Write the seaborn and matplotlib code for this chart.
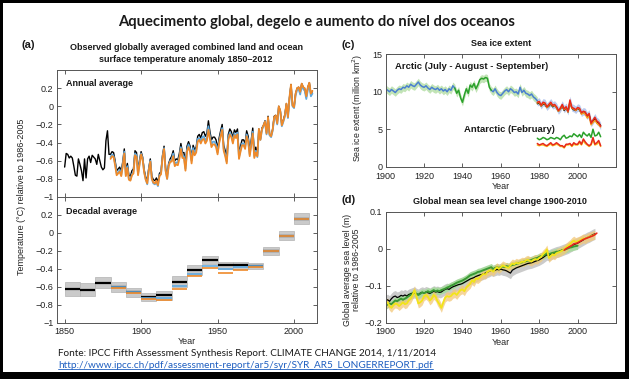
import numpy as np
import matplotlib
matplotlib.use('Agg')
import matplotlib.pyplot as plt
import seaborn as sns
from matplotlib.patches import Rectangle
from matplotlib.lines import Line2D

sns.set_theme(style='ticks')
PANEL_FONT = ['Liberation Sans Narrow', 'Liberation Sans', 'DejaVu Sans']
plt.rcParams['font.family'] = PANEL_FONT

# ---------------- (a) temperature anomaly ----------------
years_black = np.arange(1850, 2013)
temp_black = [
    -0.67, -0.52, -0.53, -0.57, -0.55, -0.57, -0.66, -0.76, -0.77, -0.58,
    -0.64, -0.71, -0.82, -0.58, -0.79, -0.58, -0.55, -0.62, -0.54, -0.56,
    -0.58, -0.64, -0.53, -0.60, -0.67, -0.70, -0.68, -0.38, -0.27, -0.53,
    -0.53, -0.50, -0.51, -0.60, -0.71, -0.69, -0.67, -0.72, -0.61, -0.47,
    -0.72, -0.63, -0.76, -0.77, -0.71, -0.69, -0.49, -0.51, -0.71, -0.59,
    -0.50, -0.56, -0.70, -0.78, -0.82, -0.68, -0.58, -0.77, -0.81, -0.82,
    -0.79, -0.84, -0.74, -0.72, -0.54, -0.44, -0.68, -0.77, -0.63, -0.58,
    -0.55, -0.49, -0.60, -0.58, -0.59, -0.52, -0.41, -0.51, -0.51, -0.65,
    -0.44, -0.39, -0.44, -0.57, -0.43, -0.48, -0.45, -0.33, -0.31, -0.35,
    -0.29, -0.28, -0.33, -0.30, -0.16, -0.28, -0.37, -0.34, -0.34, -0.37,
    -0.47, -0.35, -0.27, -0.20, -0.43, -0.49, -0.57, -0.31, -0.25, -0.28,
    -0.35, -0.26, -0.29, -0.25, -0.52, -0.44, -0.37, -0.37, -0.41, -0.27,
    -0.33, -0.49, -0.37, -0.24, -0.51, -0.45, -0.54, -0.25, -0.36, -0.24,
    -0.21, -0.16, -0.29, -0.11, -0.31, -0.33, -0.25, -0.11, -0.10, -0.18,
    0.00, -0.05, -0.20, -0.15, -0.09, 0.03, -0.12, 0.09, 0.24, 0.01,
    -0.01, 0.14, 0.20, 0.21, 0.15, 0.25, 0.21, 0.19, 0.10, 0.21,
    0.26, 0.13, 0.17]
years_other = np.arange(1880, 2013)
temp_orange = [
    -0.58, -0.55, -0.56, -0.65, -0.76, -0.74, -0.72, -0.77, -0.66, -0.52,
    -0.77, -0.68, -0.81, -0.82, -0.76, -0.74, -0.54, -0.56, -0.76, -0.64,
    -0.53, -0.59, -0.73, -0.81, -0.85, -0.71, -0.61, -0.80, -0.84, -0.85,
    -0.82, -0.87, -0.77, -0.75, -0.57, -0.47, -0.71, -0.80, -0.66, -0.61,
    -0.61, -0.55, -0.66, -0.64, -0.65, -0.58, -0.47, -0.57, -0.57, -0.71,
    -0.50, -0.45, -0.50, -0.63, -0.49, -0.54, -0.51, -0.39, -0.37, -0.41,
    -0.37, -0.36, -0.41, -0.38, -0.26, -0.36, -0.45, -0.42, -0.42, -0.45,
    -0.53, -0.41, -0.33, -0.26, -0.49, -0.55, -0.63, -0.37, -0.31, -0.34,
    -0.41, -0.32, -0.35, -0.31, -0.58, -0.50, -0.43, -0.43, -0.47, -0.33,
    -0.39, -0.55, -0.43, -0.30, -0.57, -0.51, -0.55, -0.25, -0.37, -0.25,
    -0.21, -0.17, -0.30, -0.12, -0.31, -0.33, -0.26, -0.12, -0.10, -0.19,
    0.00, -0.05, -0.21, -0.16, -0.10, 0.03, -0.12, 0.10, 0.24, 0.01,
    -0.01, 0.14, 0.20, 0.21, 0.16, 0.25, 0.21, 0.20, 0.11, 0.21,
    0.26, 0.14, 0.17]
temp_blue = [
    -0.56, -0.53, -0.55, -0.63, -0.74, -0.73, -0.70, -0.76, -0.64, -0.50,
    -0.76, -0.66, -0.80, -0.81, -0.75, -0.72, -0.52, -0.54, -0.75, -0.62,
    -0.52, -0.58, -0.72, -0.80, -0.86, -0.70, -0.60, -0.80, -0.85, -0.86,
    -0.84, -0.88, -0.76, -0.74, -0.56, -0.46, -0.70, -0.80, -0.65, -0.60,
    -0.59, -0.52, -0.64, -0.62, -0.62, -0.56, -0.45, -0.55, -0.55, -0.69,
    -0.48, -0.42, -0.47, -0.60, -0.46, -0.51, -0.48, -0.36, -0.35, -0.39,
    -0.34, -0.33, -0.38, -0.35, -0.22, -0.33, -0.42, -0.39, -0.39, -0.42,
    -0.51, -0.39, -0.31, -0.24, -0.47, -0.53, -0.61, -0.35, -0.29, -0.32,
    -0.39, -0.30, -0.33, -0.29, -0.56, -0.48, -0.41, -0.41, -0.45, -0.31,
    -0.37, -0.53, -0.41, -0.28, -0.55, -0.49, -0.56, -0.26, -0.37, -0.26,
    -0.22, -0.17, -0.31, -0.13, -0.32, -0.34, -0.27, -0.13, -0.11, -0.20,
    -0.01, -0.06, -0.22, -0.17, -0.11, 0.02, -0.13, 0.08, 0.22, 0.00,
    -0.02, 0.12, 0.18, 0.19, 0.13, 0.23, 0.19, 0.17, 0.08, 0.18,
    0.23, 0.11, 0.14]

decades = np.arange(1850, 2010, 10)
dec_black = [-0.62, -0.63, -0.55, -0.60, -0.66, -0.71, -0.69, -0.54,
             -0.41, -0.30, -0.36, -0.36, -0.37, -0.20, -0.03, 0.16]
dec_unc = [0.08, 0.07, 0.06, 0.055, 0.05, 0.045, 0.05, 0.06,
           0.055, 0.04, 0.035, 0.04, 0.035, 0.045, 0.05, 0.06]
decades_other = np.arange(1880, 2010, 10)
dec_orange = [-0.61, -0.67, -0.73, -0.74, -0.62, -0.48, -0.39, -0.44,
              -0.41, -0.38, -0.20, -0.03, 0.16]
dec_blue = [-0.60, -0.66, -0.72, -0.72, -0.59, -0.45, -0.37, -0.40,
            -0.38, -0.37, -0.20, -0.03, 0.16]

# ---------------- (c) sea ice extent ----------------
yrs_arc_early = np.arange(1900, 1937)
arc_early = [10.4, 10.2, 10.0, 10.3, 10.1, 9.9, 10.2, 10.4, 10.3, 10.6,
             10.5, 10.8, 10.6, 11.0, 10.8, 10.7, 11.0, 11.3, 10.9, 10.7,
             10.6, 10.8, 10.5, 10.3, 10.6, 10.4, 10.3, 10.5, 10.2, 10.4,
             10.1, 10.3, 10.0, 10.4, 10.2, 10.8, 10.5]
yrs_arc_mid = np.arange(1936, 1956)
arc_mid = [10.5, 9.8, 10.2, 9.2, 8.6, 9.6, 10.4, 9.8, 10.9, 10.6,
           11.1, 10.4, 10.9, 11.6, 11.8, 11.7, 11.9, 11.8, 10.6, 10.2]
yrs_arc_late = np.arange(1955, 1980)
arc_late = [10.2, 10.0, 10.4, 9.9, 9.6, 9.5, 9.8, 10.1, 10.3, 10.0,
            10.4, 10.2, 9.9, 10.0, 9.7, 10.6, 9.9, 10.2, 9.8, 9.7,
            9.5, 9.7, 9.3, 9.1, 8.8]
yrs_sat = np.arange(1979, 2013)
arc_red = [8.6, 8.7, 8.2, 8.6, 8.5, 8.0, 8.3, 8.6, 8.2, 8.3, 8.0, 7.5,
           7.8, 8.3, 7.7, 8.0, 7.4, 8.9, 7.9, 7.8, 7.6, 7.9, 7.8, 7.2,
           7.4, 7.3, 6.8, 7.1, 5.8, 6.2, 6.6, 6.1, 5.9, 5.4]
arc_black = [8.4, 8.5, 8.1, 8.4, 8.3, 7.9, 8.1, 8.4, 8.0, 8.2, 7.9, 7.4,
             7.7, 8.1, 7.5, 7.9, 7.3, 8.6, 7.8, 7.6, 7.5, 7.8, 7.6, 7.1,
             7.2, 7.1, 6.7, 6.9, 5.9, 6.1, 6.4, 6.0, 5.8, 5.5]
arc_orange = [8.5, 8.6, 8.1, 8.5, 8.4, 7.9, 8.2, 8.5, 8.1, 8.2, 7.9, 7.4,
              7.7, 8.2, 7.6, 7.9, 7.3, 8.7, 7.8, 7.7, 7.5, 7.8, 7.7, 7.0,
              7.2, 7.0, 6.5, 6.8, 5.6, 5.9, 6.2, 5.8, 5.6, 5.3]
ant_green = [3.8, 3.6, 3.7, 3.9, 3.8, 3.6, 3.7, 3.9, 3.8, 3.7, 3.9, 3.8,
             3.6, 4.0, 4.2, 3.8, 3.9, 4.1, 4.0, 4.4, 4.2, 4.0, 4.3, 3.9,
             4.6, 4.3, 4.1, 4.4, 3.9, 5.0, 4.1, 4.2, 4.6, 4.0]
ant_red = [3.1, 2.9, 3.0, 3.1, 2.9, 2.8, 3.0, 3.2, 2.9, 3.0, 3.2, 3.0,
           2.8, 2.8, 2.6, 3.0, 3.0, 3.1, 2.8, 3.2, 3.0, 3.0, 3.4, 3.0,
           3.7, 3.3, 3.0, 2.8, 3.0, 3.9, 3.0, 3.2, 3.5, 2.8]
ant_orange = [2.9, 2.8, 2.9, 2.9, 2.8, 2.7, 2.9, 3.0, 2.8, 2.9, 3.0, 2.9,
              2.7, 2.7, 2.5, 2.9, 2.9, 3.0, 2.7, 3.0, 2.9, 2.9, 3.2, 2.9,
              3.5, 3.1, 2.9, 2.7, 2.9, 3.6, 2.9, 3.0, 3.3, 2.7]
ice_unc = 0.5

# ---------------- (d) sea level ----------------
yrs_sl = np.arange(1900, 2010)
sl_yellow = [
    -0.150, -0.145, -0.155, -0.160, -0.152, -0.148, -0.150, -0.155, -0.150, -0.145,
    -0.150, -0.148, -0.140, -0.135, -0.125, -0.112, -0.130, -0.148, -0.145, -0.140,
    -0.128, -0.125, -0.130, -0.140, -0.135, -0.125, -0.130, -0.142, -0.150, -0.160,
    -0.145, -0.132, -0.128, -0.130, -0.128, -0.122, -0.120, -0.125, -0.118, -0.112,
    -0.110, -0.115, -0.105, -0.100, -0.095, -0.085, -0.090, -0.080, -0.082, -0.078,
    -0.072, -0.068, -0.070, -0.062, -0.060, -0.058, -0.062, -0.055, -0.050, -0.055,
    -0.050, -0.045, -0.048, -0.050, -0.052, -0.045, -0.040, -0.042, -0.038, -0.040,
    -0.038, -0.035, -0.036, -0.032, -0.030, -0.033, -0.035, -0.030, -0.028, -0.030,
    -0.025, -0.022, -0.015, -0.010, -0.002, -0.025, -0.020, -0.015, -0.018, -0.012,
    -0.010, -0.008, -0.005, -0.002, 0.003, 0.008, 0.012, 0.018, 0.022, 0.018,
    0.020, 0.022, 0.025, 0.028, 0.026, 0.030, 0.032, 0.034, 0.036, 0.038]
yrs_sl_green = np.arange(1900, 2001)
sl_green = [
    -0.155, -0.150, -0.148, -0.150, -0.145, -0.140, -0.142, -0.138, -0.135, -0.138,
    -0.135, -0.132, -0.128, -0.125, -0.122, -0.118, -0.122, -0.125, -0.122, -0.118,
    -0.120, -0.118, -0.115, -0.118, -0.115, -0.112, -0.115, -0.113, -0.115, -0.112,
    -0.110, -0.108, -0.105, -0.103, -0.100, -0.098, -0.095, -0.092, -0.090, -0.088,
    -0.086, -0.083, -0.080, -0.076, -0.072, -0.070, -0.068, -0.066, -0.063, -0.062,
    -0.060, -0.058, -0.056, -0.054, -0.052, -0.050, -0.055, -0.052, -0.050, -0.052,
    -0.050, -0.048, -0.050, -0.047, -0.049, -0.046, -0.044, -0.043, -0.041, -0.040,
    -0.038, -0.037, -0.035, -0.034, -0.032, -0.032, -0.030, -0.028, -0.026, -0.025,
    -0.022, -0.020, -0.019, -0.016, -0.012, -0.015, -0.013, -0.011, -0.010, -0.008,
    -0.008, -0.006, -0.004, -0.003, -0.001, 0.001, 0.003, 0.004, 0.006, 0.007,
    0.008]
sl_black = [
    -0.140, -0.138, -0.142, -0.135, -0.130, -0.128, -0.132, -0.130, -0.126, -0.128,
    -0.125, -0.128, -0.124, -0.122, -0.120, -0.118, -0.122, -0.124, -0.120, -0.118,
    -0.120, -0.117, -0.119, -0.121, -0.118, -0.115, -0.117, -0.116, -0.118, -0.117,
    -0.113, -0.110, -0.108, -0.110, -0.106, -0.103, -0.101, -0.099, -0.097, -0.096,
    -0.094, -0.091, -0.088, -0.085, -0.082, -0.080, -0.078, -0.075, -0.073, -0.071,
    -0.070, -0.068, -0.066, -0.063, -0.061, -0.058, -0.060, -0.058, -0.056, -0.057,
    -0.055, -0.057, -0.058, -0.060, -0.063, -0.066, -0.058, -0.055, -0.052, -0.050,
    -0.048, -0.046, -0.044, -0.042, -0.040, -0.039, -0.038, -0.036, -0.034, -0.032,
    -0.030, -0.027, -0.024, -0.020, -0.016, -0.018, -0.015, -0.013, -0.011, -0.009,
    -0.008, -0.006, -0.004, -0.002, 0.000, 0.002, 0.005, 0.008, 0.011, 0.013,
    0.015, 0.018, 0.021, 0.024, 0.027, 0.030, 0.032, 0.035, 0.038, 0.040]
yrs_sl_red = np.arange(1993, 2011)
sl_red = [-0.004, 0.000, 0.003, 0.006, 0.009, 0.013, 0.014, 0.016, 0.019,
          0.022, 0.025, 0.027, 0.029, 0.031, 0.033, 0.035, 0.038, 0.042]
sl_unc_black = 0.015
sl_unc_green = 0.010
sl_unc_yellow = 0.012

W, H = 629, 379
fig = plt.figure(figsize=(W / 100, H / 100), dpi=100, facecolor='black')
fx = lambda px: px / W
fy = lambda py: 1 - py / H
fig.add_artist(Rectangle((fx(3), fy(372)), fx(622), (372 - 3) / H,
                         transform=fig.transFigure, facecolor='white',
                         edgecolor='none', zorder=-10))

ax_a1 = fig.add_axes([fx(57), fy(197), fx(260), 127 / H])
ax_a2 = fig.add_axes([fx(57), fy(323), fx(260), 126 / H])
ax_c = fig.add_axes([fx(385.7), fy(166.7), fx(230.3), 112.4 / H])
ax_d = fig.add_axes([fx(385.7), fy(322.7), fx(230.3), 111 / H])

TICK = 6.5
def style(ax):
    ax.set_facecolor('white')
    for s in ax.spines.values():
        s.set_color('#555555')
        s.set_linewidth(0.7)
    ax.tick_params(direction='in', length=3, width=0.6, color='#444444',
                   top=True, right=True, labelsize=TICK, pad=2.5,
                   labelcolor='#222222')
    ax.tick_params(axis='x', pad=3.2)
    ax.set_xlabel('')
    ax.set_ylabel('')

ORANGE = '#ef8a2a'
LBLUE = '#5ea9e0'

# (a) annual
sns.lineplot(x=years_black, y=temp_black, ax=ax_a1, color='black', linewidth=1.0, legend=False)
sns.lineplot(x=years_other, y=temp_blue, ax=ax_a1, color=LBLUE, linewidth=1.3, legend=False)
sns.lineplot(x=years_other, y=temp_orange, ax=ax_a1, color=ORANGE, linewidth=1.3, legend=False)

# (a) decadal
ax_a2.bar(decades, 2 * np.array(dec_unc), bottom=np.array(dec_black) - np.array(dec_unc),
          width=10, align='edge', color='#cacaca', edgecolor='#b3b3b3', linewidth=0.5)
ax_a2.hlines(dec_black, decades, decades + 10, color='black', linewidth=1.6)
ax_a2.hlines(dec_blue, decades_other, decades_other + 10, color=LBLUE, linewidth=1.2)
ax_a2.hlines(dec_orange, decades_other, decades_other + 10, color=ORANGE, linewidth=1.2)

temp_ticks = [-1, -0.8, -0.6, -0.4, -0.2, 0, 0.2]
temp_labels = ['\u22121', '\u22120.8', '\u22120.6', '\u22120.4', '\u22120.2', '0', '0.2']
for ax in (ax_a1, ax_a2):
    style(ax)
    ax.set_xlim(1845, 2015)
    ax.set_ylim(-1, 0.4)
    ax.set_xticks([1850, 1900, 1950, 2000])
    ax.set_yticks(temp_ticks)
    ax.set_yticklabels(temp_labels)
ax_a1.set_xticklabels([])
ax_a2.set_xlabel('Year', fontsize=TICK, labelpad=0.5)

# (c) sea ice
for yrs, vals in ((yrs_arc_early, arc_early), (yrs_arc_mid, arc_mid), (yrs_arc_late, arc_late)):
    v = np.array(vals)
    ax_c.fill_between(yrs, v - ice_unc, v + ice_unc, color='#c2e4b6', linewidth=0)
v = np.array(arc_red)
ax_c.fill_between(yrs_sat, v - ice_unc, v + ice_unc, color='#bccbee', linewidth=0)
sns.lineplot(x=yrs_arc_early, y=arc_early, ax=ax_c, color='#4a7fd0', linewidth=1.1, legend=False)
sns.lineplot(x=yrs_arc_late, y=arc_late, ax=ax_c, color='#4a7fd0', linewidth=1.1, legend=False)
sns.lineplot(x=yrs_arc_mid, y=arc_mid, ax=ax_c, color='#2aa12a', linewidth=1.1, legend=False)
sns.lineplot(x=yrs_sat, y=arc_black, ax=ax_c, color='black', linewidth=1.0, legend=False)
sns.lineplot(x=yrs_sat, y=arc_orange, ax=ax_c, color='#f5a020', linewidth=1.1, legend=False)
sns.lineplot(x=yrs_sat, y=arc_red, ax=ax_c, color='#e8281c', linewidth=1.1, legend=False)
sns.lineplot(x=yrs_sat, y=ant_green, ax=ax_c, color='#2aa12a', linewidth=1.1, legend=False)
sns.lineplot(x=yrs_sat, y=ant_orange, ax=ax_c, color='#f5c020', linewidth=1.1, legend=False)
sns.lineplot(x=yrs_sat, y=ant_red, ax=ax_c, color='#e8281c', linewidth=1.1, legend=False)
style(ax_c)
ax_c.set_xlim(1900, 2020)
ax_c.set_ylim(0, 15)
ax_c.set_xticks([1900, 1920, 1940, 1960, 1980, 2000, 2020])
ax_c.set_xticklabels(['1900', '1920', '1940', '1960', '1980', '2000', ''])
ax_c.set_yticks([0, 5, 10, 15])
ax_c.tick_params(axis='x', pad=4)
ax_c.set_xlabel('Year', fontsize=TICK, labelpad=0.2)
ax_c.text(1905, 13.4, 'Arctic (July - August - September)', fontsize=6.8,
          fontweight='bold', va='center', color='#1a1a1a')
ax_c.text(1941, 5.0, 'Antarctic (February)', fontsize=6.8,
          fontweight='bold', va='center', color='#1a1a1a')

# (d) sea level
b = np.array(sl_black)
ax_d.fill_between(yrs_sl, b - sl_unc_black, b + sl_unc_black, color='#cbcbcb', linewidth=0)
g = np.array(sl_green)
ax_d.fill_between(yrs_sl_green, g - sl_unc_green, g + sl_unc_green, color='#a9d9a0', linewidth=0)
y_ = np.array(sl_yellow)
ax_d.fill_between(yrs_sl, y_ - sl_unc_yellow, y_ + sl_unc_yellow, color='#f3c878', alpha=0.75, linewidth=0)
sns.lineplot(x=yrs_sl, y=sl_black, ax=ax_d, color='black', linewidth=0.9, legend=False)
sns.lineplot(x=yrs_sl_green, y=sl_green, ax=ax_d, color='#3a9a34', linewidth=1.4, legend=False)
sns.lineplot(x=yrs_sl, y=sl_yellow, ax=ax_d, color='#f2e418', linewidth=1.3, legend=False)
sns.lineplot(x=yrs_sl_red, y=sl_red, ax=ax_d, color='#e8281c', linewidth=1.2, legend=False)
style(ax_d)
ax_d.set_xlim(1900, 2020)
ax_d.set_ylim(-0.2, 0.1)
ax_d.set_xticks([1900, 1920, 1940, 1960, 1980, 2000, 2020])
ax_d.set_xticklabels(['1900', '1920', '1940', '1960', '1980', '2000', ''])
ax_d.set_yticks([-0.2, -0.1, 0, 0.1])
ax_d.set_yticklabels(['\u22120.2', '\u22120.1', '0', '0.1'])
ax_d.set_xlabel('Year', fontsize=TICK, labelpad=1.5)

# texts
TITLE_FONT = ['Lato', 'DejaVu Sans']
fig.text(fx(317), fy(22), 'Aquecimento global, degelo e aumento do nível dos oceanos',
         ha='center', va='center', fontsize=10.6, fontweight='bold',
         family=TITLE_FONT, color='#1a1a1a')
for lbl, x, y in (('(a)', 22, 45), ('(c)', 341, 45), ('(d)', 341, 200)):
    fig.text(fx(x), fy(y), lbl, ha='left', va='center', fontsize=8,
             fontweight='bold', color='#1a1a1a')
fig.text(fx(186), fy(47), 'Observed globally averaged combined land and ocean',
         ha='center', va='center', fontsize=6.5, fontweight='bold', color='#1a1a1a')
fig.text(fx(186), fy(60), 'surface temperature anomaly 1850\u20132012',
         ha='center', va='center', fontsize=6.5, fontweight='bold', color='#1a1a1a')
fig.text(fx(501), fy(44), 'Sea ice extent', ha='center', va='center',
         fontsize=6.5, fontweight='bold', color='#1a1a1a')
fig.text(fx(500), fy(201), 'Global mean sea level change 1900-2010', ha='center',
         va='center', fontsize=6.5, fontweight='bold', color='#1a1a1a')
fig.text(fx(66), fy(83), 'Annual average', ha='left', va='center', fontsize=6.5,
         fontweight='bold', color='#1a1a1a')
fig.text(fx(66), fy(211), 'Decadal average', ha='left', va='center', fontsize=6.5,
         fontweight='bold', color='#1a1a1a')
fig.text(fx(22), fy(197), 'Temperature (\u00b0C) relative to 1986-2005', rotation=90,
         ha='center', va='center', fontsize=6.5, color='#222222')
fig.text(fx(358), fy(108), 'Sea ice extent (million km$^2$)', rotation=90,
         ha='center', va='center', fontsize=6.3, color='#222222')
fig.text(fx(352), fy(270), 'Global average sea level (m)\nrelative to 1986-2005', rotation=90,
         ha='center', va='center', fontsize=6.3, color='#222222', linespacing=1.1)

fig.text(fx(58), fy(353), 'Fonte: IPCC Fifth Assessment Synthesis Report. CLIMATE CHANGE 2014, 1/11/2014',
         ha='left', va='center', fontsize=7.2, family=TITLE_FONT, color='#1a1a1a')
url = fig.text(fx(58), fy(365), 'http://www.ipcc.ch/pdf/assessment-report/ar5/syr/SYR_AR5_LONGERREPORT.pdf',
               ha='left', va='center', fontsize=7.2, family=TITLE_FONT, color='#1f5fc0')
fig.canvas.draw()
bb = url.get_window_extent()
fig.add_artist(Line2D([bb.x0 / W, bb.x1 / W], [(bb.y0 + 0.5) / H] * 2,
                      transform=fig.transFigure, color='#1f5fc0', linewidth=0.6))

fig.savefig('out.png', dpi=100, facecolor=fig.get_facecolor())
